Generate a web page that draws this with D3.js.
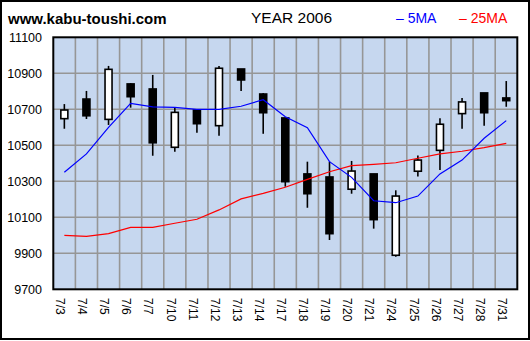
<!DOCTYPE html>
<html><head><meta charset="utf-8">
<script src="https://cdn.jsdelivr.net/npm/d3@7"></script>
<style>body{margin:0;background:#fff}svg{display:block}text{font-family:"Liberation Sans",Arial,sans-serif}</style>
</head><body>
<script>
const dates = ["7/3","7/4","7/5","7/6","7/7","7/10","7/11","7/12","7/13","7/14","7/17","7/18","7/19","7/20","7/21","7/24","7/25","7/26","7/27","7/28","7/31"];
const openV  = [10648,10757,10644,10841,10813,10489,10696,10609,10924,10785,10652,10341,10324,10256,10341,9889,10356,10472,10676,10791,10763];
const highV  = [10729,10802,10941,10845,10891,10709,10700,10941,10924,10790,10652,10409,10409,10413,10341,10250,10444,10650,10763,10791,10857];
const lowV   = [10592,10646,10613,10709,10442,10464,10570,10553,10802,10564,10270,10153,9974,10231,10037,9881,10326,10363,10592,10609,10714];
const closeV = [10696,10664,10922,10770,10514,10683,10620,10928,10863,10681,10298,10231,10009,10357,10087,10218,10418,10617,10741,10681,10748];
const ma5  = [10350,10452,10600,10733,10714,10711,10700,10700,10717,10753,10659,10598,10409,10322,10192,10181,10218,10341,10418,10539,10637];
const ma25 = [10000,9994,10009,10044,10044,10067,10089,10141,10202,10233,10267,10311,10353,10387,10394,10403,10428,10452,10467,10487,10511];
const yTicks = [9700,9900,10100,10300,10500,10700,10900,11100];

const W=530,H=341, L=53.3, R=517.3, T=37.3, B=289.3;
const svg=d3.select("body").append("svg").attr("width",W).attr("height",H);
svg.append("rect").attr("x",0).attr("y",0).attr("width",W).attr("height",H).attr("fill","#fff");
svg.append("rect").attr("x",1).attr("y",1).attr("width",W-2).attr("height",338).attr("fill","none").attr("stroke","#000").attr("stroke-width",2);

const x=d3.scaleBand().domain(dates).range([L,R]);
const y=d3.scaleLinear().domain([9700,11100]).range([B,T]);
const cx=d=>x(d)+x.bandwidth()/2;

svg.append("rect").attr("x",L).attr("y",T).attr("width",R-L).attr("height",B-T).attr("fill","#c6d7ef");
// grid
svg.append("g").selectAll("line").data(dates.slice(1)).join("line")
  .attr("x1",d=>x(d)).attr("x2",d=>x(d)).attr("y1",T).attr("y2",B).attr("stroke","#969696").attr("stroke-width",1.6);
svg.append("g").selectAll("line").data(yTicks.slice(1,-1)).join("line")
  .attr("x1",L).attr("x2",R).attr("y1",d=>y(d)).attr("y2",d=>y(d)).attr("stroke","#969696").attr("stroke-width",1.6);

// candles
const idx=d3.range(dates.length);
const bw=7;
const g=svg.append("g");
g.selectAll("line.w").data(idx).join("line").attr("class","w")
  .attr("x1",i=>cx(dates[i])).attr("x2",i=>cx(dates[i]))
  .attr("y1",i=>y(highV[i])).attr("y2",i=>y(lowV[i])).attr("stroke","#000").attr("stroke-width",1.6);
g.selectAll("rect.b").data(idx).join("rect").attr("class","b")
  .attr("x",i=>cx(dates[i])-bw/2).attr("width",bw)
  .attr("y",i=>y(Math.max(openV[i],closeV[i])))
  .attr("height",i=>Math.max(1,Math.abs(y(openV[i])-y(closeV[i]))))
  .attr("fill",i=>closeV[i]>=openV[i]?"#fff":"#000").attr("stroke","#000").attr("stroke-width",1.6);

// MA lines
const line=d3.line().x((v,i)=>cx(dates[i])).y(v=>y(v));
svg.append("path").datum(ma25).attr("d",line).attr("fill","none").attr("stroke","#ff0000").attr("stroke-width",1.2);
svg.append("path").datum(ma5).attr("d",line).attr("fill","none").attr("stroke","#0000ff").attr("stroke-width",1.2);

// border
svg.append("rect").attr("x",L).attr("y",T).attr("width",R-L).attr("height",B-T).attr("fill","none").attr("stroke","#000").attr("stroke-width",2);

// y labels
svg.append("g").selectAll("text").data(yTicks).join("text")
  .attr("x",42).attr("y",d=>y(d)+4.5).attr("text-anchor","end").attr("font-size",12.5).attr("fill","#000").text(d=>d);
// x labels
svg.append("g").selectAll("text").data(dates).join("text")
  .attr("transform",d=>`translate(${cx(d)-8.3},298) rotate(90)`)
  .attr("font-size",12).attr("fill","#000").text(d=>d);

// titles
svg.append("text").attr("x",8).attr("y",24).attr("font-size",15).attr("font-weight","bold").text("www.kabu-toushi.com");
svg.append("text").attr("x",251).attr("y",22.5).attr("font-size",15.5).text("YEAR 2006");
svg.append("text").attr("x",396).attr("y",23).attr("font-size",14).attr("fill","#0000ff").text("– 5MA");
svg.append("text").attr("x",459).attr("y",23).attr("font-size",14).attr("fill","#ff0000").text("– 25MA");
</script>
</body></html>
